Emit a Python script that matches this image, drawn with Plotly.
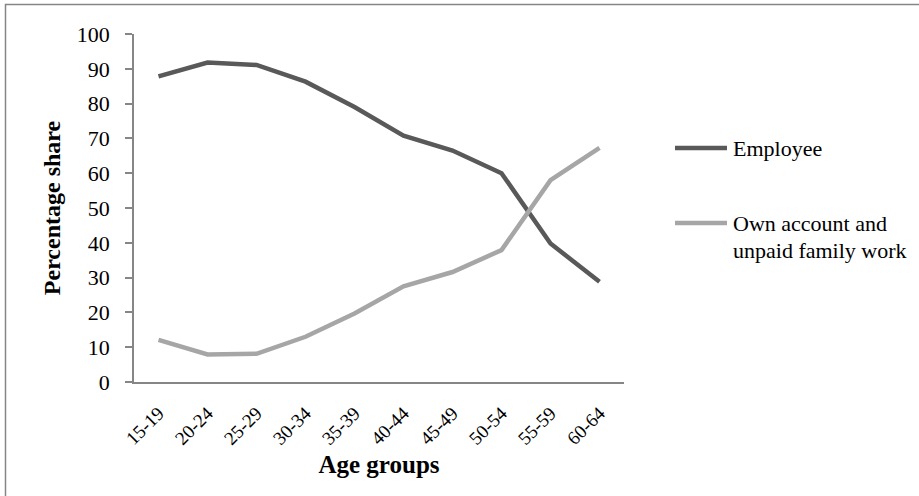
import plotly.graph_objects as go

age_groups = ["15-19", "20-24", "25-29", "30-34", "35-39", "40-44", "45-49", "50-54", "55-59", "60-64"]
employee = [87.8, 91.8, 91.1, 86.3, 79.0, 70.8, 66.5, 60.0, 39.8, 28.8]
own_account = [12.1, 7.9, 8.1, 13.0, 19.7, 27.5, 31.6, 37.9, 58.0, 67.3]
y_ticks = [0, 10, 20, 30, 40, 50, 60, 70, 80, 90, 100]
series_names = ["Employee", "Own account and<br>unpaid family work"]
series_colors = ["#595959", "#A6A6A6"]

FONT = "Liberation Serif"
AXIS = "#868686"

W, H = 919, 496
L, R, T, B = 134, 624, 34, 382
pw, ph = R - L, B - T


def px(x):
    return (x - L) / pw


def py(y):
    return (B - y) / ph


fig = go.Figure()
for vals, name, col in zip([employee, own_account], series_names, series_colors):
    fig.add_trace(go.Scatter(x=age_groups, y=vals, mode="lines", name=name.replace("<br>", " "),
                             line=dict(color=col, width=4.5), showlegend=False))

# chart-area frame (only top and left edges fall inside the picture)
shapes = [dict(type="rect", xref="paper", yref="paper",
               x0=px(5.5), x1=px(940), y0=py(520), y1=py(4.5),
               line=dict(color=AXIS, width=1.5), fillcolor="rgba(0,0,0,0)", layer="below")]
annotations = []

# manual legend (Excel style: long line key, text to the right)
legend_rows = [148, 223]
line_gap = 27
for yrow, name, col in zip(legend_rows, series_names, series_colors):
    shapes.append(dict(type="line", xref="paper", yref="paper",
                       x0=px(675), x1=px(727), y0=py(yrow), y1=py(yrow),
                       line=dict(color=col, width=4.5)))
    for i, part in enumerate(name.split("<br>")):
        annotations.append(dict(xref="paper", yref="paper", x=px(731), y=py(yrow + i * line_gap),
                                xanchor="left", yanchor="middle", align="left",
                                text=part, showarrow=False,
                                font=dict(family=FONT, size=22, color="#000000")))

fig.update_layout(
    width=W, height=H,
    margin=dict(l=L, r=W - R, t=T, b=H - B),
    paper_bgcolor="white", plot_bgcolor="white",
    font=dict(family=FONT, size=20, color="#000000"),
    showlegend=False,
    xaxis=dict(type="category", showgrid=False, zeroline=False,
               showline=True, linecolor=AXIS, linewidth=1.5,
               ticks="", tickangle=-45, tickfont=dict(family=FONT, size=19),
               ticklabelstandoff=11,
               title=dict(text="<b>Age groups</b>", font=dict(family=FONT, size=25), standoff=8),
               range=[-0.5, 9.5]),
    yaxis=dict(range=[0, 100], tickvals=y_ticks, showgrid=False, zeroline=False,
               showline=True, linecolor=AXIS, linewidth=1.5,
               ticks="outside", ticklen=7, tickcolor=AXIS, tickwidth=1.5,
               tickfont=dict(family=FONT, size=22), ticklabelstandoff=11,
               title=dict(text="<b>Percentage share</b>", font=dict(family=FONT, size=24), standoff=9)),
    shapes=shapes,
    annotations=annotations,
)

fig.write_html("out.html", config={"displayModeBar": False},
               post_script="document.body.style.margin='0';")
